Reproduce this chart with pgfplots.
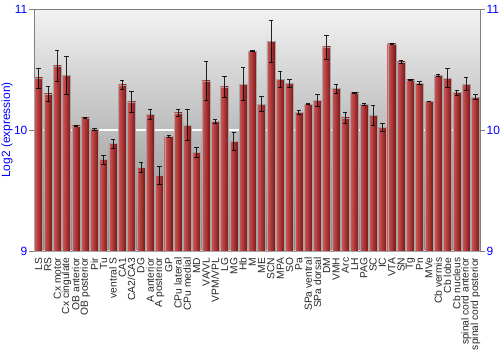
\documentclass[border=0pt]{standalone}
\usepackage{pgfplots}
\pgfplotsset{compat=1.18}
\usepackage{pgfplotstable}
\usepackage{fontspec}
\setmainfont{Liberation Sans}
\definecolor{barL}{RGB}{212,86,86}
\definecolor{barM}{RGB}{186,52,52}
\definecolor{barR}{RGB}{122,22,22}
\definecolor{bgTop}{RGB}{242,242,242}
\definecolor{bgBot}{RGB}{135,135,135}
\definecolor{axgray}{RGB}{128,128,128}
\pgfplotstableread{
x y e
0 10.43 0.083
1 10.30 0.06
2 10.53 0.13
3 10.45 0.155
4 10.035 0.005
5 10.10 0.006
6 10.004 0.006
7 9.756 0.037
8 9.888 0.036
9 10.374 0.037
10 10.233 0.09
11 9.69 0.044
12 10.131 0.043
13 9.626 0.074
14 9.949 0.01
15 10.142 0.028
16 10.04 0.127
17 9.814 0.039
18 10.407 0.16
19 10.07 0.015
20 10.357 0.088
21 9.908 0.075
22 10.379 0.135
23 10.652 0.005
24 10.214 0.06
25 10.732 0.177
26 10.418 0.065
27 10.385 0.03
28 10.148 0.018
29 10.214 0.005
30 10.244 0.047
31 10.686 0.098
32 10.343 0.036
33 10.10 0.045
34 10.308 0.005
35 10.211 0.011
36 10.123 0.083
37 10.023 0.033
38 10.713 0.005
39 10.564 0.014
40 10.415 0.004
41 10.388 0.012
42 10.236 0.003
43 10.451 0.01
44 10.429 0.077
45 10.310 0.02
46 10.379 0.054
47 10.272 0.019
}\datatable
\begin{document}
\begin{tikzpicture}
\path[use as bounding box] (-34bp,-99bp) rectangle (466bp,251bp);
\begin{axis}[
  scale only axis, width=446bp, height=242bp,
  at={(0,0)}, anchor=south west,
  xmin=-0.5, xmax=47.5, ymin=9, ymax=11,
  xtick={0,...,47},
  xticklabels={LS,RS,Cx motor,Cx cingulate,OB anterior,OB posterior,Pir,Tu,ventral S,CA1,CA2/CA3,DG,A anterior,A posterior,GP,CPu lateral,CPu medial,MD,VA/VL,VPM/VPL,LG,MG,Hb,M,ME,SCN,MPA,SO,Pa,SPa ventral,SPa dorsal,DM,VMH,Arc,LH,PAG,SC,IC,VTA,SN,Tg,Pn,MVe,Cb vermis,Cb lobe,Cb nucleus,spinal cord anterior,spinal cord posterior},
  xticklabel style={rotate=90, anchor=east, font=\fontsize{10.3}{11}\selectfont, inner sep=1.5pt, text=black!85},
  x tick style={draw=none},
  ytick={9,10,11},
  ytick pos=left,
  yticklabel style={text=blue, font=\fontsize{12}{13}\selectfont, inner sep=1.5pt},
  /pgf/number format/assume math mode=true,
  y tick style={axgray, line width=0.8pt},
  tick align=outside, major tick length=5bp,
  ylabel={Log2 (expression)},
  ylabel style={text=blue, font=\fontsize{12}{13}\selectfont, at={(axis description cs:-0.04,0.5)}, anchor=south},
  axis line style={axgray, line width=0.8pt},
  ymajorgrids, grid style={white, line width=1.2pt},
  axis background/.style={shade, top color=bgTop, bottom color=bgBot},
  bar width=0.86,
]
\pgfplotsinvokeforeach{0,...,47}{
\addplot[ybar, bar shift=0pt, draw=gray!70, line width=0.4pt,
  left color=barL, middle color=barM, right color=barR, forget plot,
  x filter/.expression={abs(x-#1)<0.1 ? x : nan}]
  table[x=x, y=y] {\datatable};
}
\addplot[draw=none, mark=none, forget plot,
  error bars/.cd, y dir=both, y explicit,
  error bar style={draw=black, line width=0.7pt, opacity=0.85},
  error mark options={rotate=90, mark size=2.2bp, line width=0.7pt, draw=black}]
  table[x=x, y=y, y error=e] {\datatable};
\end{axis}
\begin{axis}[
  scale only axis, width=446bp, height=242bp,
  at={(0,0)}, anchor=south west,
  xmin=-0.5, xmax=47.5, ymin=9, ymax=11,
  hide x axis,
  axis y line*=right,
  ytick={9,10,11},
  yticklabel style={text=blue, font=\fontsize{12}{13}\selectfont, inner sep=1.5pt},
  /pgf/number format/assume math mode=true,
  y tick style={axgray, line width=0.8pt},
  tick align=outside, major tick length=5bp,
  axis line style={axgray, line width=0.8pt},
]
\end{axis}
\end{tikzpicture}
\end{document}
